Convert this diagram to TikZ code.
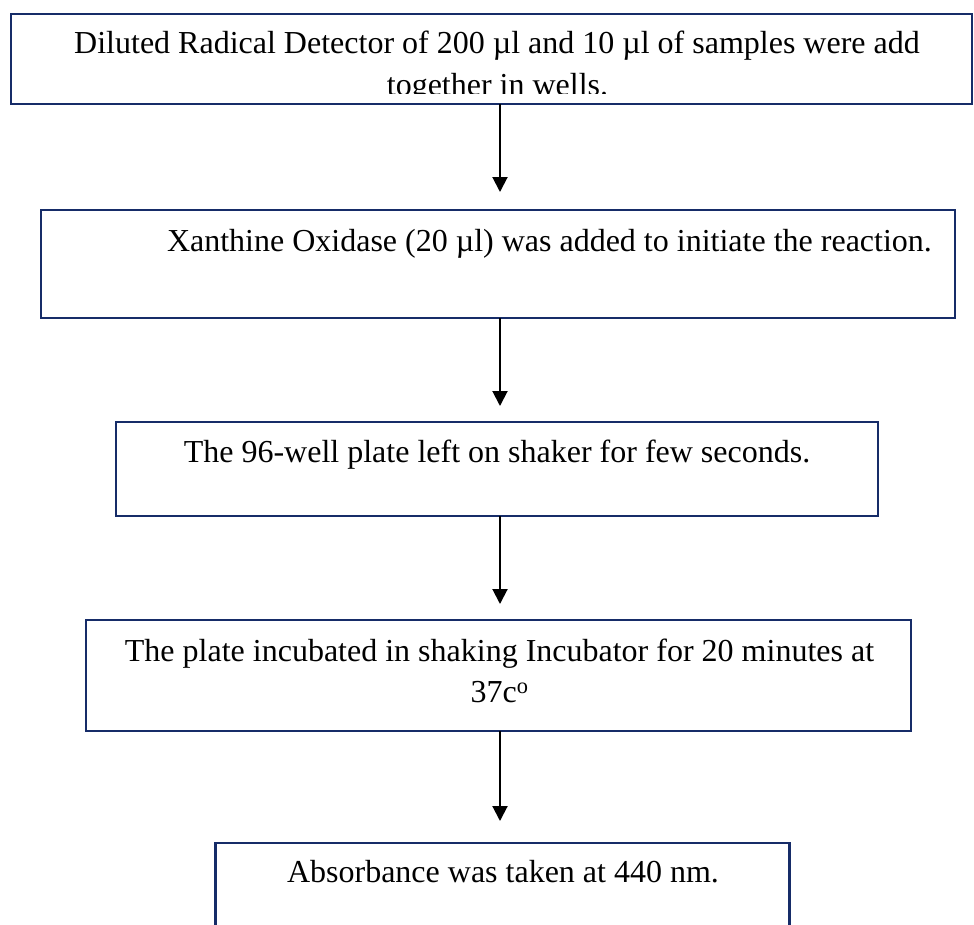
\documentclass[tikz,border=0pt]{standalone}
\usepackage{fontspec}
\setmainfont{Liberation Serif}
\usetikzlibrary{arrows.meta}
\definecolor{boxblue}{RGB}{22,44,104}
\tikzset{
  stepbox/.style={draw=boxblue, line width=2.2bp, rectangle, inner sep=0pt, outer sep=0pt},
  txt/.style={inner sep=0pt, outer sep=0pt, anchor=base, font=\fontsize{32bp}{41bp}\selectfont},
  arr/.style={draw=black, line width=2bp, -{Triangle[width=15bp,length=15bp]}}
}
\begin{document}
\begin{tikzpicture}[x=1bp,y=-1bp]
\clip (0,0) rectangle (974,925);
\fill[white] (0,0) rectangle (974,925);
% boxes
\node[stepbox, minimum width=961bp, minimum height=90bp] (b1) at (491.5,59) {};
\node[stepbox, minimum width=914bp, minimum height=108bp] (b2) at (498,264) {};
\node[stepbox, minimum width=762bp, minimum height=94bp] (b3) at (497,469) {};
\node[stepbox, minimum width=825bp, minimum height=111bp] (b4) at (498.5,675.5) {};
\node[stepbox, minimum width=574bp, minimum height=120bp] (b5) at (502.5,903) {};
% texts
\begin{scope}
\clip (12,15) rectangle (971,93);
\node[txt] (t1a) at (497,53) {Diluted Radical Detector of 200 µl and 10 µl of samples were add};
\node[txt] (t1b) at (497.5,95) {together in wells.};
\end{scope}
\node[txt, anchor=base west] (t2) at (167,251) {Xanthine Oxidase (20 µl) was added to initiate the reaction.};
\node[txt] (t3) at (497,462) {The 96-well plate left on shaker for few seconds.};
\node[txt] (t4a) at (499.5,661) {The plate incubated in shaking Incubator for 20 minutes at};
\node[txt] (t4b) at (499.5,702) {37c\textsuperscript{o}};
\node[txt] (t5) at (503,882) {Absorbance was taken at 440 nm.};
% arrows
\coordinate (ax) at (500,0);
\draw[arr] (b1.south -| ax) -- ([yshift=18bp]b2.north -| ax);
\draw[arr] (b2.south -| ax) -- ([yshift=16bp]b3.north -| ax);
\draw[arr] (b3.south -| ax) -- ([yshift=16bp]b4.north -| ax);
\draw[arr] (b4.south -| ax) -- ([yshift=22bp]b5.north -| ax);
\end{tikzpicture}
\end{document}
